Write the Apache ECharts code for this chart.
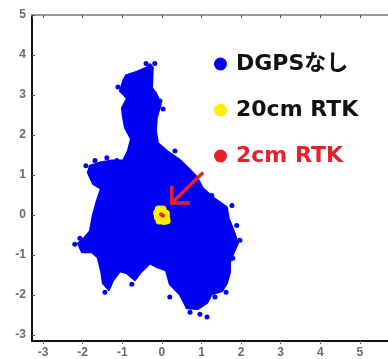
<!DOCTYPE html>
<html>
<head>
  <meta charset="UTF-8">
  <script src="https://cdn.jsdelivr.net/npm/echarts@6.0.0/dist/echarts.min.js"></script>
  <style>
    body { margin: 0; padding: 0; background: #ffffff; }
    #chart { width: 388px; height: 359px; }
  </style>
</head>
<body>
  <div id="chart"></div>
  <script>
    // series names (legend order)
    const seriesNames = ['DGPSなし', '20cm RTK', '2cm RTK'];

    // DGPS-less position cloud: outline of the dense area [x m, y m]
    const dgpsOutline = [
      [-0.30, 3.77], [-0.23, 3.69], [-0.25, 3.17], [-0.15, 3.05], [-0.03, 2.77],
      [-0.13, 2.42], [-0.15, 2.10], [-0.10, 1.80], [0.13, 1.60], [0.45, 1.38],
      [0.63, 1.21], [0.88, 0.96], [1.04, 0.66], [1.36, 0.39], [1.64, 0.19],
      [1.69, -0.09], [1.82, -0.41], [1.92, -0.71], [1.82, -0.93], [1.72, -1.18],
      [1.72, -1.43], [1.64, -1.71], [1.52, -1.90], [1.26, -1.98], [1.14, -2.20],
      [0.91, -2.35], [0.63, -2.33], [0.45, -1.98], [0.20, -1.73], [0.10, -1.38],
      [-0.13, -1.30], [-0.30, -1.21], [-0.53, -1.43], [-0.68, -1.63], [-0.88, -1.46],
      [-1.06, -1.41], [-1.24, -1.65], [-1.34, -1.88], [-1.49, -1.70], [-1.54, -1.38],
      [-1.62, -1.06], [-1.77, -0.93], [-2.02, -0.93], [-2.12, -0.71], [-1.97, -0.58],
      [-1.82, -0.41], [-1.74, 0.01], [-1.64, 0.36], [-1.54, 0.66], [-1.74, 0.78],
      [-1.87, 1.06], [-1.82, 1.23], [-1.57, 1.31], [-1.26, 1.36], [-0.98, 1.36],
      [-0.86, 1.60], [-0.78, 1.90], [-0.93, 2.18], [-0.98, 2.43], [-1.01, 2.67],
      [-0.88, 2.92], [-1.06, 3.10], [-0.98, 3.35], [-0.91, 3.49], [-0.61, 3.59],
      [-0.38, 3.69]
    ];

    // loose DGPS points around the edge of the cloud
    const dgpsFringe = [
      [-2.07, -0.58], [-2.20, -0.73], [0.20, -2.05], [1.14, -2.55], [0.96, -2.48],
      [0.71, -2.43], [1.97, -0.63], [1.89, -0.26], [1.79, -1.08], [1.62, -1.93],
      [1.34, -2.05], [-1.92, 1.23], [-1.69, 1.36], [-1.39, 1.43], [-1.14, 1.36],
      [-1.44, -1.93], [-0.76, -1.73], [-0.05, 2.85], [0.03, 2.65], [0.33, 1.60],
      [1.26, 0.49], [1.77, 0.24], [-1.11, 3.20], [-0.40, 3.79], [-0.18, 3.79]
    ];

    // 20cm RTK points
    const rtk20 = [
      [-0.08, 0.14], [0.02, 0.14], [-0.12, 0.05], [0.00, 0.05], [0.10, 0.03],
      [-0.10, -0.05], [0.00, -0.05], [0.10, -0.06], [-0.06, -0.14], [0.05, -0.15],
      [0.12, -0.14]
    ];

    // 2cm RTK points
    const rtk2 = [[0.00, 0.00], [0.03, -0.02], [-0.02, 0.02]];

    // arrow pointing at the RTK cluster
    const arrowShaft = [[1.04, 1.06], [0.25, 0.30]];
    const arrowHead = [[0.25, 0.73], [0.25, 0.30], [0.71, 0.30]];

    const blue = '#0000f2';
    const yellow = '#ffee00';
    const red = '#e8202a';

    const chart = echarts.init(document.getElementById('chart'));

    const tickLabel = {
      fontSize: 12,
      color: '#6a6a6a',
      fontWeight: 'bold',
      fontFamily: 'Liberation Sans, Arial'
    };

    const option = {
      backgroundColor: '#ffffff',
      animation: false,
      grid: { left: 32, top: 15, right: 0, bottom: 18 },
      legend: {
        orient: 'vertical',
        left: 209,
        top: 46,
        itemWidth: 13,
        itemHeight: 13,
        itemGap: 20,
        icon: 'circle',
        selectedMode: false,
        textStyle: {
          fontSize: 22,
          lineHeight: 26,
          fontWeight: 'bold',
          color: '#111111',
          fontFamily: 'DejaVu Sans, Noto Sans CJK JP',
          padding: [0, 0, 0, 4]
        },
        data: [
          { name: seriesNames[0], itemStyle: { color: blue } },
          { name: seriesNames[1], itemStyle: { color: yellow } },
          { name: seriesNames[2], itemStyle: { color: red }, textStyle: { color: red } }
        ]
      },
      xAxis: [
        {
          type: 'value',
          position: 'bottom',
          min: -3.28,
          max: 5.71,
          splitNumber: 9,
          splitLine: { show: false },
          axisLine: { onZero: false, lineStyle: { color: '#111111', width: 2 } },
          axisTick: { length: 3, lineStyle: { color: '#777777' } },
          axisLabel: Object.assign({ margin: 6, showMinLabel: false, showMaxLabel: false }, tickLabel)
        },
        {
          type: 'value',
          position: 'top',
          min: -3.28,
          max: 5.71,
          splitNumber: 9,
          splitLine: { show: false },
          axisLine: { onZero: false, lineStyle: { color: '#999999', width: 2 } },
          axisTick: { inside: true, length: 3, lineStyle: { color: '#555555' } },
          axisLabel: { show: false }
        }
      ],
      yAxis: {
        type: 'value',
        min: -3.15,
        max: 5,
        splitNumber: 8,
        splitLine: { show: false },
        axisLine: { show: true, onZero: false, lineStyle: { color: '#111111', width: 2 } },
        axisTick: { show: true, inside: true, length: 3, lineStyle: { color: '#555555' } },
        axisLabel: Object.assign({ margin: 6, showMinLabel: false }, tickLabel)
      },
      series: [
        {
          name: seriesNames[0],
          type: 'custom',
          data: dgpsOutline,
          encode: { x: 0, y: 1 },
          itemStyle: { color: blue },
          renderItem: function (params, api) {
            if (params.dataIndex !== 0) return null;
            const pts = dgpsOutline.map(p => api.coord(p));
            return {
              type: 'polygon',
              shape: { points: pts },
              style: { fill: blue, stroke: blue, lineWidth: 2, lineJoin: 'round' }
            };
          }
        },
        {
          name: seriesNames[0],
          type: 'scatter',
          data: dgpsFringe,
          symbolSize: 5,
          itemStyle: { color: blue, opacity: 1 }
        },
        {
          name: seriesNames[1],
          type: 'scatter',
          data: rtk20,
          symbolSize: 8,
          itemStyle: { color: yellow, opacity: 1 }
        },
        {
          name: seriesNames[2],
          type: 'scatter',
          data: rtk2,
          symbolSize: 4,
          itemStyle: { color: red, opacity: 1 }
        },
        {
          type: 'lines',
          coordinateSystem: 'cartesian2d',
          polyline: true,
          silent: true,
          lineStyle: { color: red, width: 3.5, opacity: 1 },
          data: [{ coords: arrowShaft }, { coords: arrowHead }]
        }
      ]
    };

    chart.setOption(option);
  </script>
</body>
</html>
